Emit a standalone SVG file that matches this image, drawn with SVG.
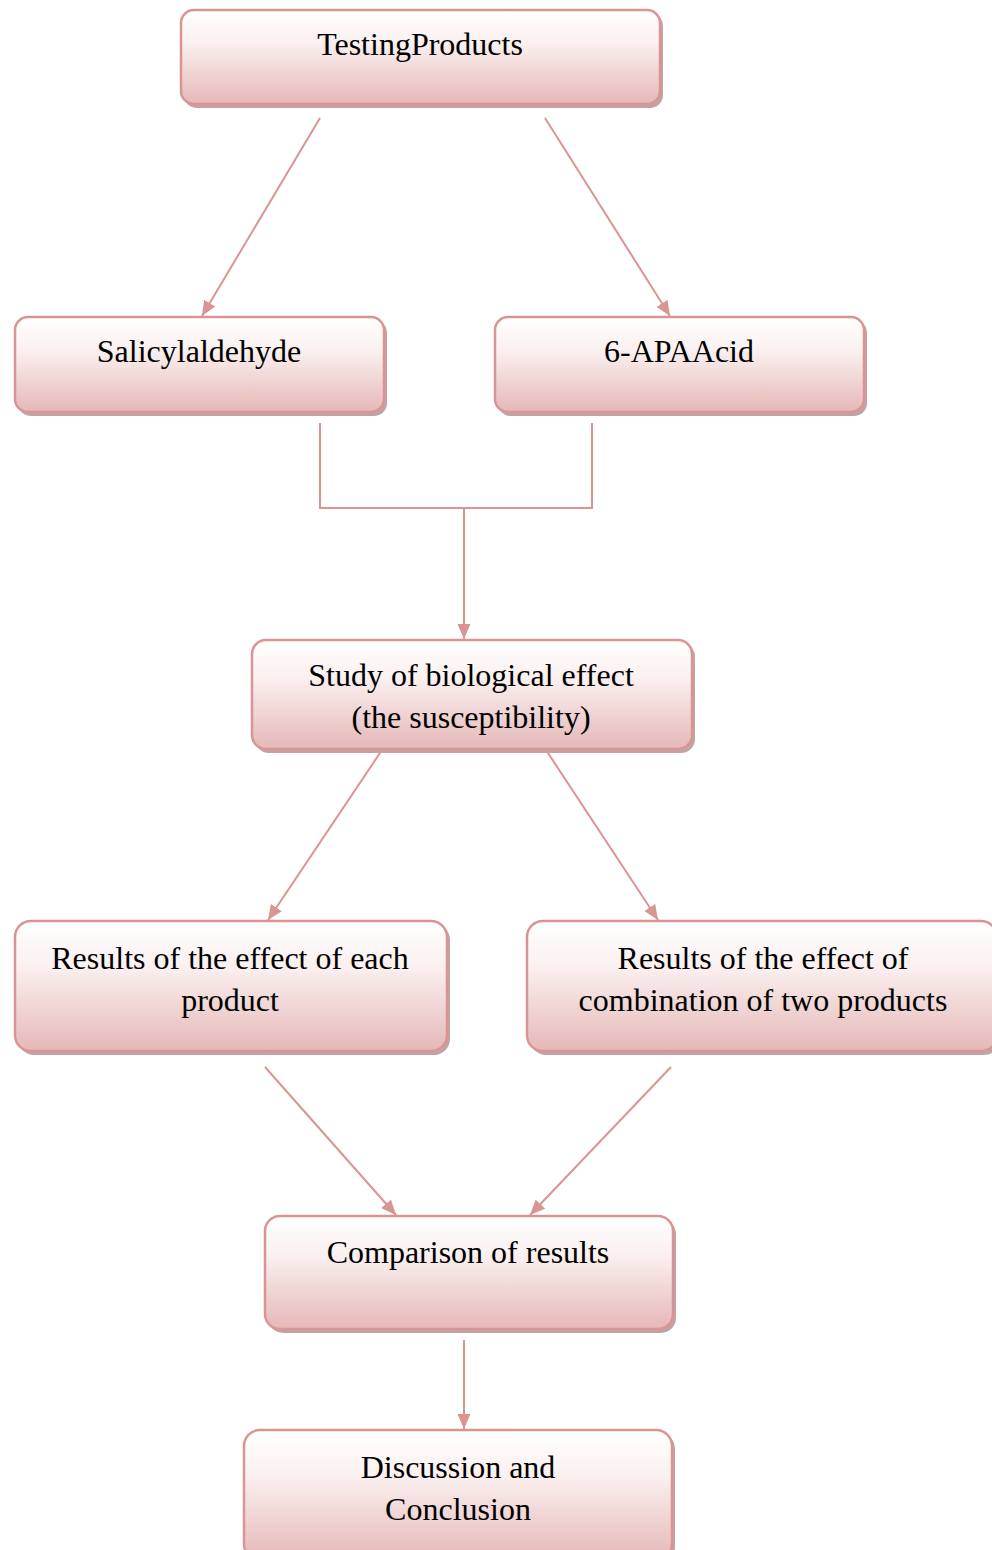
<svg xmlns="http://www.w3.org/2000/svg" width="992" height="1550" viewBox="0 0 992 1550">
<defs>
<linearGradient id="g" x1="0" y1="0" x2="0" y2="1">
<stop offset="0" stop-color="#ffffff"/>
<stop offset="0.35" stop-color="#fbf0f0"/>
<stop offset="1" stop-color="#e5b8b7"/>
</linearGradient>
<marker id="ah" viewBox="0 0 15 13" refX="15" refY="6.5" markerWidth="15" markerHeight="13" markerUnits="userSpaceOnUse" orient="auto">
<path d="M0,0 L15,6.5 L0,13 Z" fill="#d99594"/>
</marker>
</defs>
<style>
.sh{fill:#c2a3a3;}
.bx{fill:url(#g);stroke:#d99594;stroke-width:2.5;}
.t{font-family:"Liberation Serif","Times New Roman",serif;font-size:32px;fill:#000;text-anchor:middle;}
.c{fill:none;stroke:#d99594;stroke-width:2;}
</style>
<rect width="992" height="1550" fill="#ffffff"/>
<g id="connectors">
<line class="c" x1="320" y1="118" x2="202" y2="316" marker-end="url(#ah)"/>
<line class="c" x1="545" y1="118" x2="670" y2="316" marker-end="url(#ah)"/>
<polyline class="c" points="320,423 320,508 592,508 592,423"/>
<line class="c" x1="464" y1="508" x2="464" y2="639" marker-end="url(#ah)"/>
<line class="c" x1="382" y1="750" x2="268" y2="920" marker-end="url(#ah)"/>
<line class="c" x1="546" y1="750" x2="658" y2="920" marker-end="url(#ah)"/>
<line class="c" x1="265" y1="1067" x2="396" y2="1215" marker-end="url(#ah)"/>
<line class="c" x1="671" y1="1067" x2="530" y2="1215" marker-end="url(#ah)"/>
<line class="c" x1="464" y1="1340" x2="464" y2="1429" marker-end="url(#ah)"/>
</g>
<g id="n1">
<rect class="sh" x="184" y="13" width="479" height="95" rx="13"/>
<rect class="bx" x="181" y="10" width="479" height="94" rx="13"/>
<text class="t" x="420" y="55">TestingProducts</text>
</g>
<g id="n2">
<rect class="sh" x="18" y="320" width="369" height="96" rx="13"/>
<rect class="bx" x="15" y="317" width="369" height="95" rx="13"/>
<text class="t" x="199" y="362">Salicylaldehyde</text>
</g>
<g id="n3">
<rect class="sh" x="498" y="320" width="369" height="96" rx="13"/>
<rect class="bx" x="495" y="317" width="369" height="95" rx="13"/>
<text class="t" x="679" y="362">6-APAAcid</text>
</g>
<g id="n4">
<rect class="sh" x="255" y="643" width="440" height="110" rx="14"/>
<rect class="bx" x="252" y="640" width="440" height="109" rx="14"/>
<text class="t" x="471" y="686">Study of biological effect</text>
<text class="t" x="471" y="728">(the susceptibility)</text>
</g>
<g id="n5">
<rect class="sh" x="18" y="924" width="432" height="131" rx="16"/>
<rect class="bx" x="15" y="921" width="432" height="130" rx="16"/>
<text class="t" x="230" y="969">Results of the effect of each</text>
<text class="t" x="230" y="1011">product</text>
</g>
<g id="n6">
<rect class="sh" x="530" y="924" width="470" height="131" rx="16"/>
<rect class="bx" x="527" y="921" width="470" height="130" rx="16"/>
<text class="t" x="763" y="969">Results of the effect of</text>
<text class="t" x="763" y="1011">combination of two products</text>
</g>
<g id="n7">
<rect class="sh" x="268" y="1219" width="408" height="114" rx="15"/>
<rect class="bx" x="265" y="1216" width="408" height="113" rx="15"/>
<text class="t" x="468" y="1263">Comparison of results</text>
</g>
<g id="n8">
<rect class="sh" x="247" y="1433" width="428" height="130" rx="16"/>
<rect class="bx" x="244" y="1430" width="428" height="130" rx="16"/>
<text class="t" x="458" y="1478">Discussion and</text>
<text class="t" x="458" y="1520">Conclusion</text>
</g>
</svg>
